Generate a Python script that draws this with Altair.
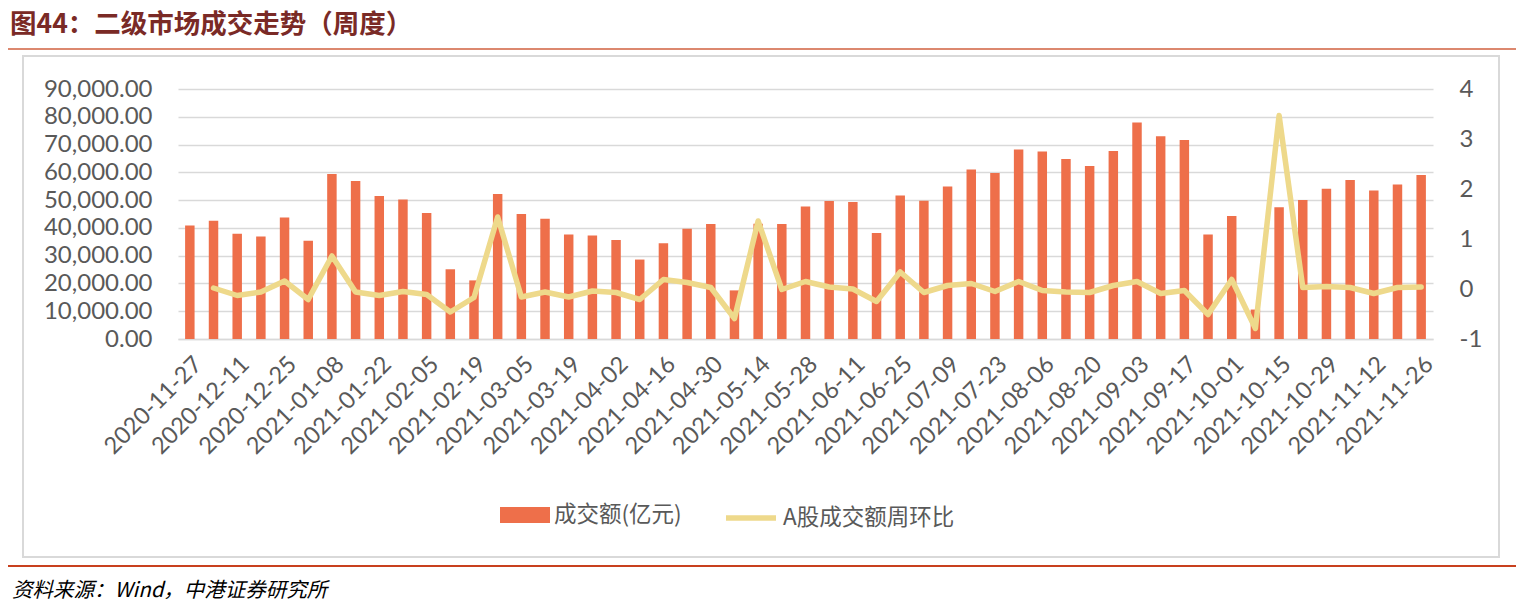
import altair as alt
import pandas as pd

dates = [
    "2020-11-27", "2020-12-04", "2020-12-11", "2020-12-18", "2020-12-25",
    "2021-01-01", "2021-01-08", "2021-01-15", "2021-01-22", "2021-01-29",
    "2021-02-05", "2021-02-12", "2021-02-19", "2021-02-26",
    "2021-03-05", "2021-03-12", "2021-03-19", "2021-03-26",
    "2021-04-02", "2021-04-09", "2021-04-16", "2021-04-23", "2021-04-30",
    "2021-05-07", "2021-05-14", "2021-05-21", "2021-05-28",
    "2021-06-04", "2021-06-11", "2021-06-18", "2021-06-25",
    "2021-07-02", "2021-07-09", "2021-07-16", "2021-07-23", "2021-07-30",
    "2021-08-06", "2021-08-13", "2021-08-20", "2021-08-27",
    "2021-09-03", "2021-09-10", "2021-09-17", "2021-09-24",
    "2021-10-01", "2021-10-08", "2021-10-15", "2021-10-22", "2021-10-29",
    "2021-11-05", "2021-11-12", "2021-11-19", "2021-11-26",
]

volume = [
    40900, 42600, 37900, 36900, 43700, 35400, 59400, 56900, 51500, 50200,
    45400, 25100, 21100, 52200, 45000, 43300, 37600, 37300, 35600, 28600,
    34500, 39700, 41400, 17500, 41500, 41400, 47700, 49700, 49300, 38200,
    51700, 49800, 54900, 61000, 59800, 68200, 67500, 64800, 62300, 67700,
    77900, 73000, 71600, 37600, 44300, 10600, 47400, 50000, 54100, 57200,
    53500, 55600, 59000,
]

wow = [
    None, 0.02, -0.13, -0.06, 0.16, -0.21, 0.66, -0.06, -0.13, -0.05,
    -0.11, -0.46, -0.17, 1.44, -0.16, -0.06, -0.16, -0.04, -0.07, -0.21,
    0.19, 0.13, 0.03, -0.59, 1.36, -0.01, 0.15, 0.04, 0.0, -0.25,
    0.34, -0.07, 0.07, 0.11, -0.05, 0.15, -0.03, -0.06, -0.07, 0.07,
    0.15, -0.09, -0.03, -0.51, 0.19, -0.79, 3.47, 0.03, 0.05, 0.03,
    -0.09, 0.03, 0.04,
]

tick_labels = dates[::2]
left_ticks = [0, 10000, 20000, 30000, 40000, 50000, 60000, 70000, 80000, 90000]
right_ticks = [-1, 0, 1, 2, 3, 4]

bar_name = "成交额(亿元)"
line_name = "A股成交额周环比"
title_text = "图44：二级市场成交走势（周度）"
source_text = "资料来源：Wind，中港证券研究所"

BAR_COLOR = "#EE6F4A"
LINE_COLOR = "#EED98B"
GRID = "#D9D9D9"
LABEL = "#595959"
AXFONT = "Lato"
CJK = "Noto Sans CJK SC"

df = pd.DataFrame({"date": dates, "volume": volume, "wow": wow})
df["s1"] = bar_name
df["s2"] = line_name

W, H = 1255, 250
PL, PT = 178, 89

xenc = alt.X(
    "date:N",
    sort=dates,
    scale=alt.Scale(paddingInner=0.6, paddingOuter=0.3),
    axis=alt.Axis(
        title=None,
        values=tick_labels,
        labelAngle=-45,
        labelAlign="right",
        labelBaseline="top",
        labelFont=AXFONT,
        labelFontSize=23.5,
        labelColor=LABEL,
        labelPadding=13,
        ticks=False,
        domainColor=GRID,
        domainWidth=1.5,
        grid=False,
    ),
)

base = alt.Chart(df)

bars = base.mark_bar(color=BAR_COLOR).encode(
    x=xenc,
    y=alt.Y(
        "volume:Q",
        scale=alt.Scale(domain=[0, 90000], nice=False),
        axis=alt.Axis(
            title=None,
            values=left_ticks,
            format=",.2f",
            labelFont=AXFONT,
            labelFontSize=24,
            labelColor=LABEL,
            labelPadding=26,
            ticks=False,
            domain=False,
            grid=True,
            gridColor=GRID,
            gridWidth=1.5,
            orient="left",
        ),
    ),
    color=alt.Color(
        "s1:N",
        scale=alt.Scale(range=[BAR_COLOR]),
        legend=alt.Legend(
            title=None,
            orient="none",
            legendX=322,
            legendY=401,
            symbolType="M-1,-0.32H1V0.32H-1Z",
            symbolSize=2500,
            symbolStrokeWidth=0,
            labelFont=CJK,
            labelFontSize=22.5,
            labelColor=LABEL,
            labelOffset=4,
            labelLimit=0,
            padding=0,
        ),
    ),
)

line = base.mark_line(
    strokeWidth=5.5, strokeJoin="round", strokeCap="round"
).encode(
    x=alt.X("date:N", sort=dates),
    y=alt.Y(
        "wow:Q",
        scale=alt.Scale(domain=[-1, 4], nice=False),
        axis=alt.Axis(
            title=None,
            values=right_ticks,
            labelExpr="'' + datum.value",
            labelFont=AXFONT,
            labelFontSize=24,
            labelColor=LABEL,
            labelPadding=26,
            ticks=False,
            domain=False,
            grid=False,
            orient="right",
        ),
    ),
    color=alt.Color(
        "s2:N",
        scale=alt.Scale(range=[LINE_COLOR]),
        legend=alt.Legend(
            title=None,
            orient="none",
            legendX=545,
            legendY=401,
            symbolType="stroke",
            symbolSize=2500,
            symbolStrokeWidth=5.5,
            labelFont=CJK,
            labelFontSize=22.5,
            labelColor=LABEL,
            labelOffset=4,
            labelLimit=0,
            padding=0,
        ),
    ),
)

deco = alt.Chart(pd.DataFrame({"k": [0]}))

border = deco.mark_rect(filled=False, stroke=GRID, strokeWidth=2).encode(
    x=alt.value(23 - PL), x2=alt.value(1499 - PL),
    y=alt.value(56 - PT), y2=alt.value(557 - PT),
)

title = deco.mark_text(
    text=title_text, font=CJK, fontSize=26.5, fontWeight="bold",
    color="#7A2A26", align="left", baseline="middle",
).encode(x=alt.value(10 - PL), y=alt.value(25 - PT))

top_rule = deco.mark_rule(color="#D0603F", strokeWidth=1.5).encode(
    x=alt.value(8 - PL), x2=alt.value(1516 - PL), y=alt.value(49 - PT)
)

bottom_rule = deco.mark_rule(color="#C8401E", strokeWidth=2).encode(
    x=alt.value(8 - PL), x2=alt.value(1516 - PL), y=alt.value(566 - PT)
)

source = deco.mark_text(
    text=source_text, font=CJK, fontSize=20.5, fontStyle="italic",
    color="#000000", align="left", baseline="middle",
).encode(x=alt.value(12 - PL), y=alt.value(591 - PT))

chart = (
    alt.layer(border, bars, line, title, top_rule, bottom_rule, source)
    .resolve_scale(y="independent", color="independent")
    .properties(
        width=W,
        height=H,
        autosize=alt.AutoSizeParams(type="none"),
        padding={"left": PL, "top": PT, "right": 1522 - PL - W, "bottom": 615 - PT - H},
        background="white",
    )
    .configure_view(stroke=None)
)

chart.save("out.html", embed_options={"renderer": "svg", "actions": False})
